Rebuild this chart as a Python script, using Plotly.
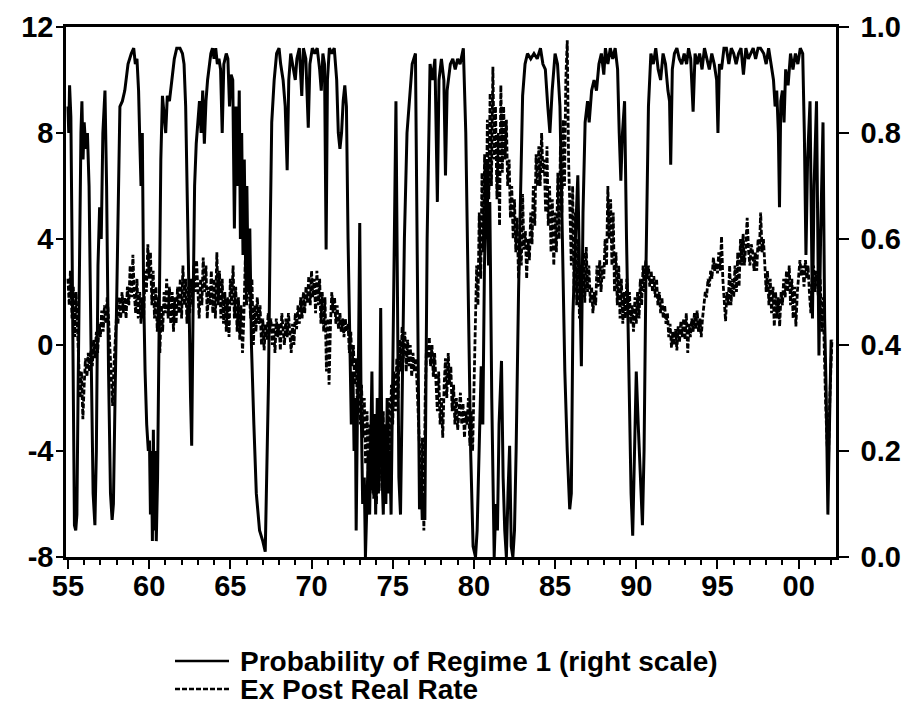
import plotly.graph_objects as go

# ---------------- data ----------------
prob_points = [
(1955.00,0.85),(1955.05,0.80),(1955.10,0.89),(1955.18,0.83),(1955.25,0.60),(1955.33,0.20),(1955.40,0.06),(1955.48,0.05),(1955.55,0.08),(1955.62,0.30),(1955.72,0.66),(1955.80,0.80),(1955.86,0.86),(1955.93,0.75),(1956.00,0.82),(1956.10,0.77),(1956.20,0.80),(1956.30,0.70),(1956.42,0.40),(1956.55,0.12),(1956.66,0.06),(1956.75,0.20),(1956.85,0.55),(1956.95,0.66),(1957.05,0.60),(1957.15,0.80),(1957.28,0.88),(1957.38,0.70),(1957.50,0.35),(1957.62,0.12),(1957.72,0.07),(1957.80,0.10),(1957.90,0.30),(1958.00,0.50),(1958.10,0.70),(1958.20,0.85),(1958.35,0.86),(1958.50,0.88),(1958.70,0.93),(1958.90,0.95),(1959.05,0.96),(1959.15,0.93),(1959.25,0.94),(1959.35,0.88),(1959.42,0.79),(1959.50,0.70),(1959.58,0.80),(1959.66,0.50),(1959.75,0.35),(1959.85,0.25),(1959.95,0.20),(1960.02,0.22),(1960.08,0.08),(1960.14,0.20),(1960.20,0.03),(1960.26,0.24),(1960.32,0.05),(1960.38,0.20),(1960.44,0.03),(1960.52,0.15),(1960.62,0.45),(1960.72,0.75),(1960.82,0.87),(1960.92,0.83),(1961.02,0.80),(1961.12,0.87),(1961.25,0.86),(1961.40,0.90),(1961.55,0.94),(1961.70,0.96),(1961.90,0.96),(1962.05,0.95),(1962.15,0.93),(1962.25,0.85),(1962.35,0.70),(1962.45,0.50),(1962.55,0.30),(1962.62,0.21),(1962.70,0.45),(1962.80,0.70),(1962.90,0.78),(1963.00,0.82),(1963.10,0.86),(1963.20,0.80),(1963.30,0.88),(1963.40,0.78),(1963.50,0.86),(1963.60,0.90),(1963.70,0.93),(1963.80,0.95),(1963.90,0.96),(1964.00,0.94),(1964.10,0.96),(1964.20,0.93),(1964.30,0.94),(1964.40,0.92),(1964.50,0.80),(1964.60,0.93),(1964.75,0.95),(1964.85,0.94),(1964.95,0.85),(1965.05,0.91),(1965.15,0.90),(1965.25,0.62),(1965.35,0.85),(1965.45,0.70),(1965.55,0.88),(1965.62,0.60),(1965.70,0.80),(1965.78,0.57),(1965.86,0.75),(1965.94,0.55),(1966.02,0.70),(1966.10,0.50),(1966.20,0.62),(1966.30,0.40),(1966.45,0.25),(1966.60,0.12),(1966.80,0.05),(1967.00,0.03),(1967.15,0.01),(1967.25,0.15),(1967.35,0.33),(1967.45,0.60),(1967.55,0.82),(1967.70,0.90),(1967.85,0.95),(1968.00,0.96),(1968.10,0.93),(1968.25,0.90),(1968.38,0.85),(1968.50,0.73),(1968.60,0.90),(1968.72,0.95),(1968.85,0.93),(1969.00,0.90),(1969.10,0.94),(1969.25,0.96),(1969.40,0.87),(1969.50,0.96),(1969.65,0.94),(1969.80,0.81),(1969.90,0.93),(1970.05,0.96),(1970.20,0.95),(1970.35,0.96),(1970.50,0.92),(1970.60,0.88),(1970.70,0.95),(1970.80,0.93),(1970.90,0.58),(1970.98,0.90),(1971.10,0.96),(1971.25,0.95),(1971.40,0.96),(1971.55,0.90),(1971.65,0.80),(1971.75,0.77),(1971.85,0.80),(1971.95,0.86),(1972.05,0.89),(1972.15,0.85),(1972.25,0.60),(1972.35,0.40),(1972.45,0.25),(1972.55,0.35),(1972.62,0.20),(1972.70,0.30),(1972.75,0.05),(1972.82,0.25),(1972.90,0.40),(1972.97,0.63),(1973.05,0.30),(1973.15,0.10),(1973.25,0.15),(1973.32,0.00),(1973.40,0.10),(1973.50,0.20),(1973.58,0.08),(1973.66,0.25),(1973.72,0.35),(1973.80,0.12),(1973.88,0.27),(1973.95,0.08),(1974.05,0.30),(1974.12,0.12),(1974.20,0.25),(1974.26,0.47),(1974.35,0.15),(1974.42,0.08),(1974.50,0.25),(1974.58,0.10),(1974.66,0.30),(1974.74,0.12),(1974.82,0.20),(1974.90,0.08),(1975.00,0.30),(1975.10,0.60),(1975.20,0.86),(1975.28,0.50),(1975.38,0.15),(1975.48,0.08),(1975.58,0.30),(1975.72,0.60),(1975.88,0.80),(1976.05,0.88),(1976.20,0.93),(1976.40,0.95),(1976.52,0.60),(1976.65,0.09),(1976.75,0.15),(1976.82,0.07),(1976.90,0.12),(1976.98,0.07),(1977.12,0.60),(1977.30,0.93),(1977.45,0.90),(1977.60,0.94),(1977.75,0.67),(1977.85,0.90),(1978.00,0.94),(1978.15,0.90),(1978.25,0.72),(1978.35,0.88),(1978.55,0.93),(1978.70,0.94),(1978.85,0.92),(1979.00,0.94),(1979.15,0.93),(1979.35,0.96),(1979.50,0.80),(1979.65,0.50),(1979.80,0.20),(1979.95,0.02),(1980.10,0.00),(1980.20,0.05),(1980.30,0.20),(1980.45,0.36),(1980.55,0.25),(1980.65,0.55),(1980.80,0.75),(1980.90,0.55),(1980.98,0.67),(1981.10,0.30),(1981.25,0.00),(1981.35,0.10),(1981.45,0.05),(1981.55,0.25),(1981.70,0.37),(1981.80,0.15),(1981.90,0.05),(1982.00,0.00),(1982.10,0.12),(1982.20,0.21),(1982.30,0.02),(1982.40,0.00),(1982.50,0.05),(1982.60,0.20),(1982.75,0.50),(1982.87,0.71),(1983.00,0.87),(1983.15,0.93),(1983.30,0.95),(1983.50,0.94),(1983.70,0.95),(1983.90,0.94),(1984.10,0.96),(1984.25,0.93),(1984.40,0.92),(1984.55,0.85),(1984.68,0.80),(1984.82,0.88),(1985.00,0.95),(1985.15,0.93),(1985.30,0.85),(1985.45,0.60),(1985.60,0.35),(1985.75,0.20),(1985.90,0.09),(1986.00,0.12),(1986.10,0.46),(1986.25,0.60),(1986.40,0.72),(1986.50,0.55),(1986.62,0.36),(1986.72,0.65),(1986.85,0.82),(1987.00,0.86),(1987.10,0.82),(1987.25,0.88),(1987.40,0.90),(1987.55,0.88),(1987.70,0.93),(1987.85,0.95),(1988.00,0.91),(1988.10,0.96),(1988.25,0.93),(1988.40,0.96),(1988.55,0.94),(1988.70,0.96),(1988.85,0.92),(1988.95,0.80),(1989.05,0.71),(1989.15,0.80),(1989.28,0.86),(1989.40,0.60),(1989.55,0.30),(1989.68,0.12),(1989.78,0.04),(1989.88,0.20),(1990.00,0.35),(1990.12,0.25),(1990.25,0.15),(1990.38,0.06),(1990.48,0.20),(1990.60,0.55),(1990.75,0.85),(1990.90,0.95),(1991.05,0.93),(1991.20,0.96),(1991.35,0.92),(1991.50,0.90),(1991.65,0.95),(1991.80,0.93),(1991.95,0.88),(1992.05,0.86),(1992.12,0.74),(1992.22,0.92),(1992.35,0.95),(1992.50,0.96),(1992.65,0.94),(1992.80,0.93),(1992.95,0.95),(1993.10,0.93),(1993.22,0.96),(1993.35,0.94),(1993.50,0.84),(1993.62,0.95),(1993.75,0.93),(1993.90,0.95),(1994.05,0.92),(1994.20,0.96),(1994.35,0.94),(1994.50,0.92),(1994.65,0.95),(1994.80,0.93),(1994.95,0.90),(1995.03,0.80),(1995.12,0.93),(1995.25,0.92),(1995.40,0.96),(1995.55,0.96),(1995.70,0.93),(1995.85,0.96),(1996.00,0.95),(1996.15,0.93),(1996.30,0.95),(1996.45,0.96),(1996.60,0.91),(1996.75,0.96),(1996.90,0.94),(1997.05,0.95),(1997.20,0.96),(1997.35,0.94),(1997.50,0.96),(1997.65,0.96),(1997.85,0.95),(1998.00,0.93),(1998.15,0.96),(1998.30,0.93),(1998.45,0.90),(1998.55,0.85),(1998.65,0.88),(1998.75,0.80),(1998.82,0.66),(1998.90,0.86),(1999.00,0.88),(1999.10,0.82),(1999.20,0.92),(1999.35,0.89),(1999.50,0.95),(1999.65,0.92),(1999.80,0.95),(1999.95,0.93),(2000.10,0.96),(2000.25,0.95),(2000.35,0.80),(2000.45,0.57),(2000.55,0.75),(2000.70,0.86),(2000.85,0.45),(2000.95,0.70),(2001.10,0.86),(2001.25,0.38),(2001.35,0.60),(2001.50,0.82),(2001.60,0.45),(2001.70,0.30),(2001.80,0.08),(2001.90,0.25),(2002.00,0.41),
]

rate_points = [
(1955.00,2.5),(1955.08,1.5),(1955.15,2.8),(1955.25,1.0),(1955.33,2.2),(1955.42,0.3),(1955.50,2.0),(1955.58,0.5),(1955.66,-0.5),(1955.75,-2.0),(1955.83,-1.0),(1955.92,-2.8),
(1956.00,-1.5),(1956.08,-0.5),(1956.17,-1.2),(1956.25,-0.3),(1956.33,-1.0),(1956.42,-0.2),(1956.50,-0.8),(1956.58,0.2),(1956.66,-0.5),(1956.75,0.5),(1956.83,-0.3),(1956.92,0.8),
(1957.00,0.3),(1957.08,1.3),(1957.17,0.5),(1957.25,1.5),(1957.33,0.8),(1957.42,1.8),(1957.50,1.0),(1957.58,0.0),(1957.66,-1.0),(1957.75,-2.3),(1957.83,-0.8),(1957.92,0.5),
(1958.00,1.2),(1958.08,0.8),(1958.17,1.8),(1958.25,1.0),(1958.33,2.0),(1958.42,1.2),(1958.50,1.8),(1958.58,1.0),(1958.66,2.2),(1958.75,1.5),(1958.83,3.0),(1958.92,1.8),
(1959.00,3.4),(1959.08,2.0),(1959.17,1.2),(1959.25,2.5),(1959.33,1.0),(1959.42,2.0),(1959.50,0.8),(1959.58,1.8),(1959.66,1.0),(1959.75,2.8),(1959.83,2.0),(1959.92,3.8),
(1960.00,2.5),(1960.08,3.5),(1960.17,1.5),(1960.25,2.8),(1960.33,1.0),(1960.42,2.2),(1960.50,0.5),(1960.58,1.8),(1960.66,-0.3),(1960.75,1.5),(1960.83,0.5),(1960.92,2.0),
(1961.00,1.2),(1961.08,2.5),(1961.17,1.0),(1961.25,2.2),(1961.33,0.8),(1961.42,2.0),(1961.50,0.5),(1961.58,1.8),(1961.66,0.8),(1961.75,2.2),(1961.83,1.2),(1961.92,2.5),
(1962.00,1.0),(1962.08,3.0),(1962.17,1.5),(1962.25,2.5),(1962.33,0.8),(1962.42,2.2),(1962.50,1.2),(1962.58,2.5),(1962.66,1.5),(1962.75,3.0),(1962.83,2.0),(1962.92,3.2),
(1963.00,2.0),(1963.08,1.0),(1963.17,2.5),(1963.25,1.5),(1963.33,3.3),(1963.42,2.0),(1963.50,3.0),(1963.58,1.0),(1963.66,2.2),(1963.75,1.5),(1963.83,2.8),(1963.92,1.2),
(1964.00,2.5),(1964.08,1.0),(1964.17,3.5),(1964.25,1.5),(1964.33,2.8),(1964.42,1.0),(1964.50,2.5),(1964.58,0.8),(1964.66,2.0),(1964.75,0.5),(1964.83,1.8),(1964.92,0.3),
(1965.00,2.5),(1965.08,1.5),(1965.17,3.0),(1965.25,1.0),(1965.33,2.2),(1965.42,0.5),(1965.50,1.8),(1965.58,0.2),(1965.66,1.5),(1965.75,-0.3),(1965.83,1.0),(1965.92,3.2),
(1966.00,1.5),(1966.08,3.5),(1966.17,2.0),(1966.25,1.0),(1966.33,2.5),(1966.42,0.0),(1966.50,1.5),(1966.58,0.5),(1966.66,1.8),(1966.75,0.8),(1966.83,1.5),(1966.92,0.0),
(1967.00,1.0),(1967.08,-0.2),(1967.17,0.8),(1967.25,0.2),(1967.33,1.2),(1967.42,0.5),(1967.50,1.0),(1967.58,0.0),(1967.66,0.8),(1967.75,-0.3),(1967.83,1.0),(1967.92,0.3),
(1968.00,0.8),(1968.08,-0.2),(1968.17,1.2),(1968.25,0.5),(1968.33,0.0),(1968.42,1.0),(1968.50,0.3),(1968.58,1.2),(1968.66,0.6),(1968.75,-0.3),(1968.83,0.8),(1968.92,0.0),
(1969.00,1.2),(1969.08,0.6),(1969.17,1.5),(1969.25,0.8),(1969.33,1.8),(1969.42,1.0),(1969.50,2.0),(1969.58,1.2),(1969.66,2.2),(1969.75,1.6),(1969.83,2.6),(1969.92,1.5),
(1970.00,2.8),(1970.08,1.8),(1970.17,2.5),(1970.25,1.2),(1970.33,2.8),(1970.42,1.5),(1970.50,2.5),(1970.58,0.8),(1970.66,2.0),(1970.75,0.5),(1970.83,1.8),(1970.92,-1.0),
(1971.00,1.0),(1971.08,-1.5),(1971.17,0.8),(1971.25,2.0),(1971.33,1.2),(1971.42,1.8),(1971.50,0.8),(1971.58,1.5),(1971.66,0.6),(1971.75,1.2),(1971.83,0.5),(1971.92,1.0),
(1972.00,0.3),(1972.08,1.0),(1972.17,0.5),(1972.25,0.8),(1972.33,-0.3),(1972.42,0.5),(1972.50,-0.8),(1972.58,0.0),(1972.66,-1.5),(1972.75,-0.5),(1972.83,-2.5),(1972.92,-1.0),
(1973.00,-3.0),(1973.08,-1.5),(1973.17,-3.5),(1973.25,-2.0),(1973.33,-4.5),(1973.42,-2.5),(1973.50,-5.0),(1973.58,-3.0),(1973.66,-5.5),(1973.75,-3.5),(1973.83,-5.8),(1973.92,-4.0),
(1974.00,-6.0),(1974.08,-3.5),(1974.17,-5.5),(1974.25,-3.0),(1974.33,-5.0),(1974.42,-2.5),(1974.50,-5.8),(1974.58,-3.0),(1974.66,-4.5),(1974.75,-2.0),(1974.83,-4.0),(1974.92,-1.5),
(1975.00,-3.0),(1975.08,-1.0),(1975.17,-2.5),(1975.25,-0.5),(1975.33,-2.0),(1975.42,0.2),(1975.50,-1.0),(1975.58,0.7),(1975.66,-0.5),(1975.75,0.5),(1975.83,-1.0),(1975.92,0.2),
(1976.00,-0.8),(1976.08,0.0),(1976.17,-1.2),(1976.25,-0.3),(1976.33,-1.0),(1976.42,-0.5),(1976.50,-1.5),(1976.58,-2.5),(1976.66,-4.0),(1976.75,-6.0),(1976.83,-3.5),(1976.92,-7.0),
(1977.00,-2.0),(1977.08,0.0),(1977.17,-0.5),(1977.25,0.3),(1977.33,-0.8),(1977.42,0.0),(1977.50,-1.2),(1977.58,-0.3),(1977.66,-1.5),(1977.75,-2.5),(1977.83,-1.0),(1977.92,-3.0),
(1978.00,-2.0),(1978.08,-3.5),(1978.17,-1.5),(1978.25,-0.5),(1978.33,-2.0),(1978.42,-0.3),(1978.50,-1.5),(1978.58,-0.8),(1978.66,-2.5),(1978.75,-1.5),(1978.83,-3.0),(1978.92,-2.0),
(1979.00,-3.2),(1979.08,-2.5),(1979.17,-1.8),(1979.25,-3.0),(1979.33,-2.2),(1979.42,-3.5),(1979.50,-2.5),(1979.58,-3.0),(1979.66,-2.0),(1979.75,-3.8),(1979.83,-2.5),(1979.92,-4.0),
(1980.00,-2.0),(1980.08,0.5),(1980.17,3.0),(1980.25,1.5),(1980.33,5.0),(1980.42,2.5),(1980.50,6.5),(1980.58,3.5),(1980.66,7.2),(1980.75,4.0),(1980.83,8.5),(1980.92,5.5),
(1981.00,9.5),(1981.08,6.0),(1981.17,10.5),(1981.25,7.0),(1981.33,9.0),(1981.42,5.5),(1981.50,8.0),(1981.58,4.5),(1981.66,9.8),(1981.75,6.5),(1981.83,9.0),(1981.92,7.0),
(1982.00,8.5),(1982.08,6.0),(1982.17,7.0),(1982.25,4.8),(1982.33,6.0),(1982.42,4.0),(1982.50,5.5),(1982.58,3.5),(1982.66,4.8),(1982.75,2.5),(1982.83,4.0),(1982.92,3.0),
(1983.00,5.7),(1983.08,3.6),(1983.17,4.3),(1983.25,2.5),(1983.33,4.0),(1983.42,3.2),(1983.50,5.0),(1983.58,3.8),(1983.66,6.0),(1983.75,4.5),(1983.83,7.2),(1983.92,6.0),
(1984.00,7.5),(1984.08,6.0),(1984.17,8.0),(1984.25,6.5),(1984.33,7.0),(1984.42,5.0),(1984.50,7.5),(1984.58,4.5),(1984.66,6.0),(1984.75,3.5),(1984.83,5.5),(1984.92,3.0),
(1985.00,5.0),(1985.08,3.5),(1985.17,6.5),(1985.25,4.0),(1985.33,7.5),(1985.42,5.0),(1985.50,8.5),(1985.58,6.0),(1985.66,10.0),(1985.75,11.5),(1985.83,7.0),(1985.92,5.0),
(1986.00,3.0),(1986.08,6.0),(1986.17,2.0),(1986.25,5.0),(1986.33,1.5),(1986.42,4.0),(1986.50,1.0),(1986.58,3.0),(1986.66,1.8),(1986.75,3.5),(1986.83,1.6),(1986.92,3.7),
(1987.00,2.0),(1987.08,3.0),(1987.17,1.6),(1987.25,2.2),(1987.33,1.2),(1987.42,2.0),(1987.50,1.5),(1987.58,3.0),(1987.66,2.2),(1987.75,3.2),(1987.83,2.0),(1987.92,3.0),
(1988.00,2.5),(1988.08,4.0),(1988.17,3.0),(1988.25,6.0),(1988.33,4.0),(1988.42,5.5),(1988.50,3.0),(1988.58,5.0),(1988.66,2.0),(1988.75,3.5),(1988.83,1.5),(1988.92,3.0),
(1989.00,1.0),(1989.08,2.5),(1989.17,0.8),(1989.25,2.0),(1989.33,1.0),(1989.42,2.5),(1989.50,1.2),(1989.58,2.0),(1989.66,0.8),(1989.75,1.5),(1989.83,0.5),(1989.92,1.8),
(1990.00,0.8),(1990.08,2.0),(1990.17,1.0),(1990.25,2.5),(1990.33,1.5),(1990.42,3.0),(1990.50,2.0),(1990.58,3.2),(1990.66,2.5),(1990.75,3.0),(1990.83,2.2),(1990.92,2.8),
(1991.00,2.0),(1991.08,2.6),(1991.17,1.8),(1991.25,2.5),(1991.33,1.5),(1991.42,2.0),(1991.50,1.2),(1991.58,1.8),(1991.66,1.0),(1991.75,1.5),(1991.83,0.8),(1991.92,1.2),
(1992.00,0.3),(1992.08,0.8),(1992.17,-0.1),(1992.25,0.5),(1992.33,0.0),(1992.42,0.6),(1992.50,-0.2),(1992.58,0.7),(1992.66,0.1),(1992.75,0.9),(1992.83,0.3),(1992.92,1.0),
(1993.00,0.2),(1993.08,1.2),(1993.17,-0.3),(1993.25,0.8),(1993.33,0.3),(1993.42,1.0),(1993.50,0.5),(1993.58,1.2),(1993.66,0.6),(1993.75,1.3),(1993.83,0.5),(1993.92,1.0),
(1994.00,0.3),(1994.08,1.0),(1994.17,1.5),(1994.25,2.0),(1994.33,1.8),(1994.42,2.5),(1994.50,2.2),(1994.58,2.8),(1994.66,2.5),(1994.75,3.3),(1994.83,2.8),(1994.92,3.1),
(1995.00,2.7),(1995.08,3.5),(1995.17,2.8),(1995.25,4.1),(1995.33,2.5),(1995.42,1.5),(1995.50,0.9),(1995.58,2.0),(1995.66,1.5),(1995.75,3.0),(1995.83,1.5),(1995.92,2.5),
(1996.00,1.8),(1996.08,3.0),(1996.17,2.0),(1996.25,3.5),(1996.33,2.2),(1996.42,4.0),(1996.50,3.0),(1996.58,4.2),(1996.66,3.0),(1996.75,3.8),(1996.83,4.8),(1996.92,3.5),
(1997.00,3.0),(1997.08,3.8),(1997.17,3.5),(1997.25,2.8),(1997.33,3.5),(1997.42,2.8),(1997.50,4.0),(1997.58,3.5),(1997.66,5.0),(1997.75,3.5),(1997.83,4.0),(1997.92,3.0),
(1998.00,2.0),(1998.08,2.8),(1998.17,1.5),(1998.25,2.5),(1998.33,1.2),(1998.42,2.2),(1998.50,0.7),(1998.58,2.0),(1998.66,1.0),(1998.75,1.8),(1998.83,0.7),(1998.92,2.0),
(1999.00,1.5),(1999.08,2.5),(1999.17,1.8),(1999.25,2.8),(1999.33,2.0),(1999.42,3.0),(1999.50,1.5),(1999.58,2.5),(1999.66,1.0),(1999.75,2.2),(1999.83,0.7),(1999.92,2.0),
(2000.00,2.5),(2000.08,3.2),(2000.17,2.6),(2000.25,3.0),(2000.33,2.2),(2000.42,3.2),(2000.50,2.5),(2000.58,3.0),(2000.66,2.0),(2000.75,1.2),(2000.83,2.5),(2000.92,3.0),
(2001.00,2.0),(2001.08,2.8),(2001.17,2.2),(2001.25,1.5),(2001.33,2.5),(2001.42,0.5),(2001.50,1.8),(2001.58,-0.5),(2001.66,-2.2),(2001.75,-3.7),(2001.83,-4.5),(2001.92,-2.0),
(2002.00,-0.5),(2002.05,0.2),
]

prob_t = [p[0] for p in prob_points]
prob_v = [p[1] for p in prob_points]
rate_t = [p[0] for p in rate_points]
rate_v = [p[1] for p in rate_points]

x_tickvals = [1955, 1960, 1965, 1970, 1975, 1980, 1985, 1990, 1995, 2000]
x_ticktext = ["55", "60", "65", "70", "75", "80", "85", "90", "95", "00"]
left_ticks = [-8, -4, 0, 4, 8, 12]
left_text = ["-8", "-4", "0", "4", "8", "12"]
right_ticks = [0.0, 0.2, 0.4, 0.6, 0.8, 1.0]
right_text = ["0.0", "0.2", "0.4", "0.6", "0.8", "1.0"]

series_names = ["Probability of Regime 1 (right scale)", "Ex Post Real Rate"]

# ---------------- figure ----------------
FONT = "Arial, 'Liberation Sans', Helvetica, sans-serif"
TICKFONT = dict(family=FONT, size=29, color="black", weight="bold")
fig = go.Figure()

fig.add_trace(go.Scatter(
    x=rate_t, y=rate_v, mode="lines", name=series_names[1],
    line=dict(color="black", width=2.8, dash="5px,2px"),
    yaxis="y", showlegend=False,
))
fig.add_trace(go.Scatter(
    x=prob_t, y=prob_v, mode="lines", name=series_names[0],
    line=dict(color="black", width=3),
    yaxis="y2", showlegend=False,
))

W, H = 908, 713
L, R, T, B = 66, 836, 27, 557

def px(xp):
    return (xp - L) / (R - L)

def py(yp):
    return (B - yp) / (B - T)

fig.update_layout(
    width=W, height=H,
    margin=dict(l=L, r=W - R, t=T, b=H - B, pad=0, autoexpand=False),
    paper_bgcolor="white", plot_bgcolor="white",
    font=dict(family=FONT, color="black", size=26),
    showlegend=False,
    xaxis=dict(
        range=[1954.88, 2002.3], tickmode="array",
        tickvals=x_tickvals, ticktext=x_ticktext,
        ticks="outside", ticklen=9, tickwidth=2, tickcolor="black",
        minor=dict(tickmode="linear", tick0=1955, dtick=1, ticks="outside",
                   ticklen=5, tickwidth=2, tickcolor="black"),
        showline=True, linewidth=2.5, linecolor="black", mirror=True,
        showgrid=False, zeroline=False, automargin=False,
        ticklabelstandoff=-8,
        tickfont=TICKFONT,
    ),
    yaxis=dict(
        range=[-8, 12], tickmode="array", tickvals=left_ticks, ticktext=left_text,
        ticks="outside", ticklen=7, tickwidth=2, tickcolor="black",
        showline=True, linewidth=2.5, linecolor="black",
        showgrid=False, zeroline=False, automargin=False,
        ticklabelstandoff=-3,
        tickfont=TICKFONT,
    ),
    yaxis2=dict(
        range=[0, 1], overlaying="y", side="right",
        tickmode="array", tickvals=right_ticks, ticktext=right_text,
        ticks="outside", ticklen=10, tickwidth=2, tickcolor="black",
        showline=True, linewidth=2.5, linecolor="black",
        showgrid=False, zeroline=False, automargin=False,
        ticklabelstandoff=6,
        tickfont=TICKFONT,
    ),
)

# manual legend (line samples + real text)
legend_rows = [(661, "solid", series_names[0]), (689, "5px,2px", series_names[1])]
for ypix, dash, label in legend_rows:
    fig.add_shape(type="line", xref="paper", yref="paper",
                  x0=px(175), x1=px(229), y0=py(ypix), y1=py(ypix),
                  line=dict(color="black", width=2.6, dash=dash))
    fig.add_annotation(xref="paper", yref="paper", x=px(238), y=py(ypix),
                       text=label, showarrow=False, xanchor="left", yanchor="middle",
                       font=dict(family=FONT, size=28, color="black", weight="bold"))

fig.write_html("out.html")
